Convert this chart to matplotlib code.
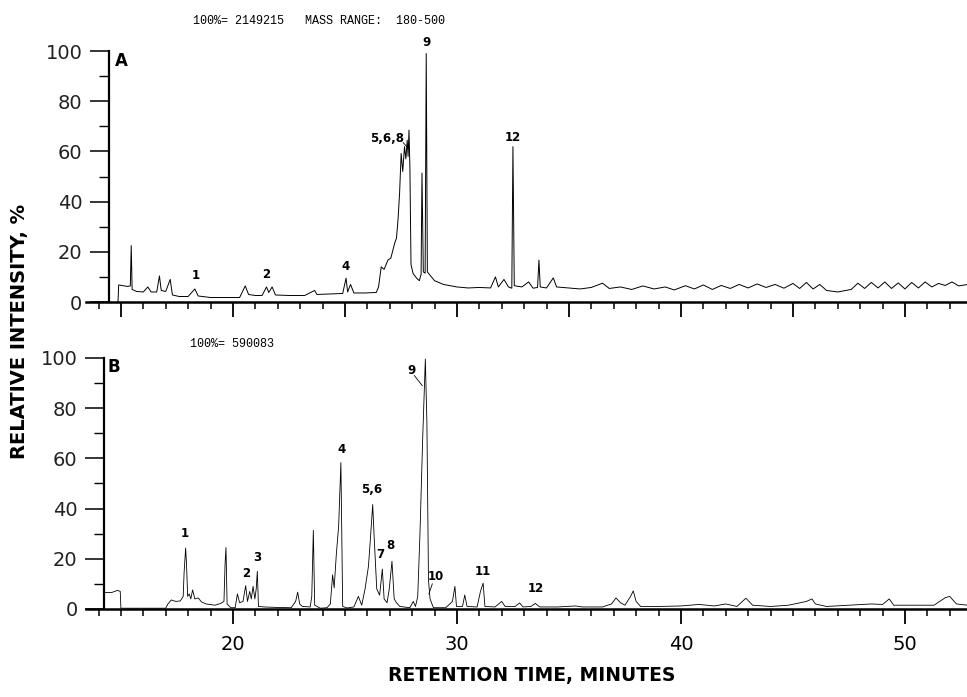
# GC-MS total ion chromatograms, panels A and B
import matplotlib.pyplot as plt
from matplotlib.ticker import MultipleLocator

# panel A: retention time (min) and relative intensity (%)
a_time = [14.87, 14.9, 15.3, 15.42, 15.46, 15.5, 15.7, 16.0, 16.2, 16.35, 16.6, 16.72, 16.8,
          17.0, 17.2, 17.3, 17.6, 18.0, 18.3, 18.45, 19.0, 19.6, 20.3, 20.55, 20.7, 21.0,
          21.3, 21.5, 21.6, 21.75, 21.9, 22.5, 23.2, 23.65, 23.75, 24.3, 24.9, 25.05, 25.12,
          25.25, 25.4, 25.9, 26.4, 26.5, 26.62, 26.75, 26.92, 27.05, 27.22, 27.3, 27.37,
          27.44, 27.51, 27.58, 27.66, 27.72, 27.78, 27.82, 27.86, 27.9, 27.95, 28.04, 28.2,
          28.32, 28.4, 28.44, 28.5, 28.58, 28.63, 28.68, 28.77, 29.0, 29.4, 30.0, 30.5, 31.0,
          31.5, 31.72, 31.85, 32.1, 32.3, 32.45, 32.5, 32.56, 32.9, 33.2, 33.4, 33.6, 33.66,
          33.72, 34.0, 34.3, 34.45, 35.0, 35.5, 36.0, 36.5, 36.8, 37.3, 37.8, 38.3, 38.8,
          39.3, 39.7, 40.2, 40.6, 41.0, 41.4, 41.8, 42.2, 42.6, 43.0, 43.4, 43.8, 44.2, 44.6,
          45.0, 45.3, 45.6, 45.9, 46.2, 46.5, 47.0, 47.6, 47.9, 48.2, 48.5, 48.8, 49.1, 49.4,
          49.7, 50.0, 50.3, 50.6, 50.9, 51.2, 51.5, 51.8, 52.1, 52.4, 52.8]
a_int = [0, 6.8, 6.2, 6.4, 22.5, 5.0, 4.2, 4.0, 6.0, 4.0, 4.0, 10.4, 4.6,
         4.2, 9.0, 2.8, 2.2, 2.2, 5.2, 2.4, 1.8, 1.8, 1.8, 6.4, 3.0, 2.6,
         2.6, 6.0, 3.8, 6.0, 2.8, 2.6, 2.6, 4.6, 3.0, 3.2, 3.4, 9.5, 4.0,
         7.0, 3.6, 3.6, 3.8, 6.0, 14.0, 13.0, 16.7, 17.5, 23.4, 25.4, 32.7,
         43.3, 59.2, 52.0, 61.9, 57.0, 64.5, 58.0, 68.5, 54.0, 15.0, 11.4, 9.5,
         8.5, 11.0, 51.4, 12.0, 11.5, 99.0, 12.0, 11.0, 8.5, 7.0, 6.0, 5.6, 5.8,
         5.6, 10.0, 6.0, 9.0, 6.0, 5.5, 61.9, 6.5, 6.0, 8.0, 5.5, 5.8, 16.7,
         6.0, 5.6, 9.6, 6.0, 5.6, 5.2, 5.8, 7.5, 5.4, 6.0, 5.0, 6.4, 5.2,
         6.0, 4.8, 6.5, 5.2, 6.8, 5.0, 6.6, 5.4, 7.0, 5.6, 7.2, 5.8, 7.0, 5.5,
         7.4, 5.4, 7.8, 5.2, 7.0, 4.6, 4.0, 5.0, 7.5, 5.4, 7.8, 5.6, 8.0, 5.4,
         7.6, 5.2, 7.8, 5.6, 8.0, 6.0, 7.4, 6.6, 8.0, 6.4, 7.0]

# panel B
b_time = [14.3, 14.6, 14.85, 14.97, 15.0, 17.0, 17.1, 17.25, 17.45, 17.65, 17.78, 17.82,
          17.89, 17.93, 17.98, 18.05, 18.12, 18.2, 18.3, 18.45, 18.6, 18.8, 19.2, 19.45,
          19.6, 19.65, 19.69, 19.74, 19.9, 20.1, 20.2, 20.3, 20.45, 20.57, 20.65, 20.75,
          20.82, 20.9, 20.98, 21.04, 21.09, 21.14, 21.4, 22.0, 22.6, 22.8, 22.89, 22.98,
          23.1, 23.45, 23.52, 23.59, 23.65, 23.9, 24.2, 24.35, 24.45, 24.52, 24.62, 24.72,
          24.82, 24.9, 25.1, 25.4, 25.6, 25.75, 25.9, 26.05, 26.15, 26.24, 26.3, 26.42,
          26.55, 26.67, 26.75, 26.88, 26.98, 27.1, 27.2, 27.3, 27.45, 27.9, 28.05, 28.15,
          28.25, 28.35, 28.47, 28.59, 28.66, 28.73, 28.8, 28.95, 29.5, 29.8, 29.91, 29.98,
          30.25, 30.35, 30.45, 30.9, 31.05, 31.17, 31.25, 31.7, 32.0, 32.15, 32.6, 32.8,
          32.95, 33.3, 33.5, 33.7, 34.5, 35.3, 35.6, 36.5, 36.9, 37.1, 37.3, 37.5, 37.75,
          37.87, 38.0, 38.2, 39.0, 40.0, 40.8, 41.5, 42.0, 42.5, 42.9, 43.2, 44.0, 44.8,
          45.6, 45.85, 46.0, 46.5, 47.5, 48.5, 49.0, 49.3, 49.5, 50.5, 51.3, 51.8, 52.0,
          52.3, 52.8]
b_int = [6.6, 6.6, 7.4, 7.0, 0.3, 0.3, 2.0, 3.6, 3.0, 3.2, 5.0, 14.4,
         24.3, 17.6, 5.0, 6.0, 4.0, 7.6, 4.0, 4.4, 2.8, 2.0, 1.5, 2.2,
         3.0, 18.0, 24.5, 2.0, 0.5, 0.5, 6.0, 2.5, 3.0, 9.3, 3.0, 7.0,
         4.0, 9.0, 4.0, 8.0, 15.0, 1.0, 0.8, 0.6, 0.5, 3.0, 6.7, 2.0,
         1.0, 0.8, 5.0, 31.3, 1.5, 0.3, 0.5, 2.0, 13.6, 8.4, 22.3, 33.0,
         58.3, 1.0, 0.4, 0.8, 5.0, 1.5, 8.0, 17.0, 29.6, 41.6, 29.6, 8.0,
         5.5, 15.9, 4.0, 2.5, 8.0, 19.0, 4.0, 2.5, 1.0, 0.5, 3.0, 1.0,
         5.0, 30.0, 67.6, 99.6, 74.0, 11.6, 4.0, 0.5, 0.5, 3.0, 9.0, 1.0,
         1.0, 5.6, 1.0, 0.8, 7.0, 10.3, 1.0, 0.8, 3.0, 1.0, 1.0, 2.4,
         0.8, 1.0, 2.2, 0.8, 0.8, 1.2, 0.8, 0.8, 2.0, 4.4, 2.5, 1.5, 5.0,
         7.2, 3.0, 1.0, 1.0, 1.2, 1.8, 1.2, 2.0, 1.0, 4.3, 1.5, 1.0, 1.5,
         3.0, 4.0, 2.0, 1.0, 1.5, 2.0, 1.8, 4.0, 1.5, 1.5, 1.5, 4.5, 5.0,
         2.0, 1.5]

y_ticks = [0, 20, 40, 60, 80, 100]
x_ticks = [20, 30, 40, 50]

# peak labels: text, x, y (data units)
a_labels = [("1", 18.35, 8), ("2", 21.5, 8.5), ("4", 25.05, 11.5), ("5,6,8", 26.9, 62.5),
            ("9", 28.65, 101), ("12", 32.5, 63)]
b_labels = [("1", 17.85, 27.5), ("2", 20.6, 11.5), ("3", 21.1, 18), ("4", 24.85, 61),
            ("5,6", 26.2, 45), ("7", 26.6, 19), ("8", 27.05, 22.5), ("9", 27.95, 92.5),
            ("10", 29.05, 10.5), ("11", 31.15, 12.5), ("12", 33.5, 5.5)]

fig = plt.figure(figsize=(9.67, 6.97), dpi=100)
ax_a = fig.add_axes([0.0889, 0.5667, 0.9111, 0.3601])
ax_b = fig.add_axes([0.0889, 0.1263, 0.9111, 0.3601])


def style_axis(ax, spine_x):
    ax.set_xlim(13.44, 52.77)
    ax.set_ylim(0, 100)
    for s in ["top", "right"]:
        ax.spines[s].set_visible(False)
    ax.spines["left"].set_position(("data", spine_x))
    ax.spines["left"].set_linewidth(1.6)
    ax.spines["bottom"].set_linewidth(1.8)
    ax.xaxis.set_major_locator(MultipleLocator(5))
    ax.xaxis.set_minor_locator(MultipleLocator(1))
    ax.set_yticks(y_ticks)
    ax.set_yticklabels([str(v) for v in y_ticks], color="#222222")
    ax.yaxis.set_minor_locator(MultipleLocator(10))
    ax.tick_params(axis="x", which="major", direction="out", length=11, width=1.3)
    ax.tick_params(axis="x", which="minor", direction="out", length=5, width=1.1)
    ax.tick_params(axis="y", which="major", direction="out", length=14, width=1.1,
                   labelsize=14, pad=5)
    ax.tick_params(axis="y", which="minor", direction="out", length=7, width=1.0)


ax_a.plot(a_time, a_int, color="black", lw=0.7)
style_axis(ax_a, 14.46)
ax_a.tick_params(axis="x", which="both", labelbottom=False)
for txt, x, y in a_labels:
    ax_a.text(x, y, txt, ha="center", va="bottom", fontsize=8.5, fontweight="bold",
              clip_on=False)
ax_a.plot([27.6, 27.85], [63.5, 61], color="black", lw=0.6)
ax_a.text(15.0, 96, "A", fontsize=12, fontweight="bold", ha="center", va="center")

ax_b.plot(b_time, b_int, color="black", lw=0.6)
style_axis(ax_b, 14.25)
ax_b.set_xticks(x_ticks)
ax_b.set_xticklabels([str(v) for v in x_ticks])
ax_b.tick_params(axis="x", which="major", labelsize=14, pad=8)
for txt, x, y in b_labels:
    ax_b.text(x, y, txt, ha="center", va="bottom", fontsize=8.5, fontweight="bold",
              clip_on=False)
ax_b.plot([28.1, 28.45], [93, 89], color="black", lw=0.6)
ax_b.plot([28.9, 28.75], [10, 6], color="black", lw=0.6)
ax_b.text(14.7, 96.5, "B", fontsize=12, fontweight="bold", ha="center", va="center")

# header texts
fig.text(193 / 967, 1 - 21 / 697, "100%= 2149215   MASS RANGE:  180-500",
         family="Liberation Mono", fontsize=8.5, va="center", ha="left")
fig.text(190 / 967, 1 - 344 / 697, "100%= 590083",
         family="Liberation Mono", fontsize=8.5, va="center", ha="left")

fig.text(20 / 967, 1 - 331 / 697, "RELATIVE INTENSITY, %", rotation=90, fontsize=14,
         fontweight="bold", ha="center", va="center")
fig.text(532 / 967, 1 - 676 / 697, "RETENTION TIME, MINUTES", fontsize=13.5,
         fontweight="bold", ha="center", va="center")

fig.savefig("out.png", dpi=100)
